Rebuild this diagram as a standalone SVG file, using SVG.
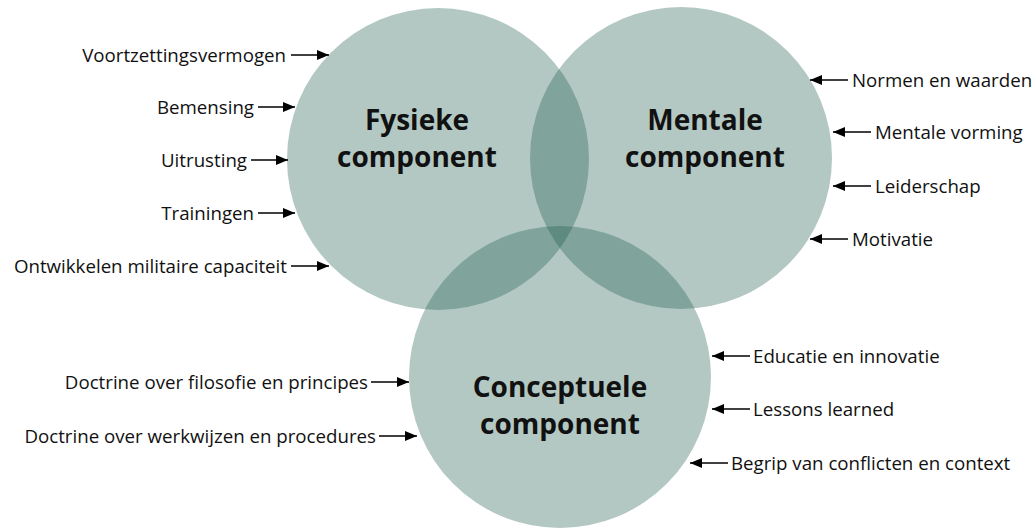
<svg xmlns="http://www.w3.org/2000/svg" width="1035" height="528" viewBox="0 0 1035 528">
<defs>
<style>
.c{fill:#175748;fill-opacity:0.33}
.t{font-family:"Open Sans","Noto Sans",sans-serif;font-weight:bold;font-size:28px;fill:#111;text-anchor:middle}
.l{font-family:"Open Sans","Noto Sans",sans-serif;font-size:18.7px;fill:#111}
.e{text-anchor:end}
.a{stroke:#000;stroke-width:1.6;fill:none;marker-end:url(#ah)}
</style>
<marker id="ah" viewBox="0 0 12 10" refX="12" refY="5" markerWidth="12" markerHeight="10" markerUnits="userSpaceOnUse" orient="auto">
<path d="M0,0 L12,5 L0,10 Z" fill="#000"/>
</marker>
</defs>
<rect width="1035" height="528" fill="#fff"/>
<g id="fysieke">
<circle class="c" cx="438" cy="159" r="151"/>
<text class="t" x="417" y="130">Fysieke</text>
<text class="t" x="417" y="167">component</text>
</g>
<g id="mentale">
<circle class="c" cx="681" cy="158" r="151"/>
<text class="t" x="705" y="130">Mentale</text>
<text class="t" x="705" y="167">component</text>
</g>
<g id="conceptuele">
<circle class="c" cx="560" cy="377" r="151"/>
<text class="t" x="560" y="397">Conceptuele</text>
<text class="t" x="560" y="434">component</text>
</g>
<g id="labels">
<text class="l e" x="286" y="62">Voortzettingsvermogen</text>
<text class="l e" x="254" y="114">Bemensing</text>
<text class="l e" x="247" y="167">Uitrusting</text>
<text class="l e" x="254" y="220">Trainingen</text>
<text class="l e" x="287" y="273">Ontwikkelen militaire capaciteit</text>
<text class="l" x="852" y="87">Normen en waarden</text>
<text class="l" x="875" y="139">Mentale vorming</text>
<text class="l" x="875" y="193">Leiderschap</text>
<text class="l" x="852" y="246">Motivatie</text>
<text class="l e" x="368" y="389">Doctrine over filosofie en principes</text>
<text class="l e" x="376" y="443">Doctrine over werkwijzen en procedures</text>
<text class="l" x="753" y="363">Educatie en innovatie</text>
<text class="l" x="753" y="416">Lessons learned</text>
<text class="l" x="731" y="470">Begrip van conflicten en context</text>
</g>
<g id="connectors">
<line class="a" x1="291" y1="55" x2="329" y2="55"/>
<line class="a" x1="258" y1="107" x2="295" y2="107"/>
<line class="a" x1="251" y1="160" x2="288" y2="160"/>
<line class="a" x1="258" y1="213" x2="295" y2="213"/>
<line class="a" x1="291" y1="266" x2="329" y2="266"/>
<line class="a" x1="848" y1="80" x2="810" y2="80"/>
<line class="a" x1="871" y1="132" x2="833" y2="132"/>
<line class="a" x1="871" y1="186" x2="833" y2="186"/>
<line class="a" x1="848" y1="239" x2="810" y2="239"/>
<line class="a" x1="371" y1="382" x2="409" y2="382"/>
<line class="a" x1="379" y1="436" x2="417" y2="436"/>
<line class="a" x1="750" y1="356" x2="712" y2="356"/>
<line class="a" x1="750" y1="409" x2="712" y2="409"/>
<line class="a" x1="728" y1="463" x2="690" y2="463"/>
</g>
</svg>
